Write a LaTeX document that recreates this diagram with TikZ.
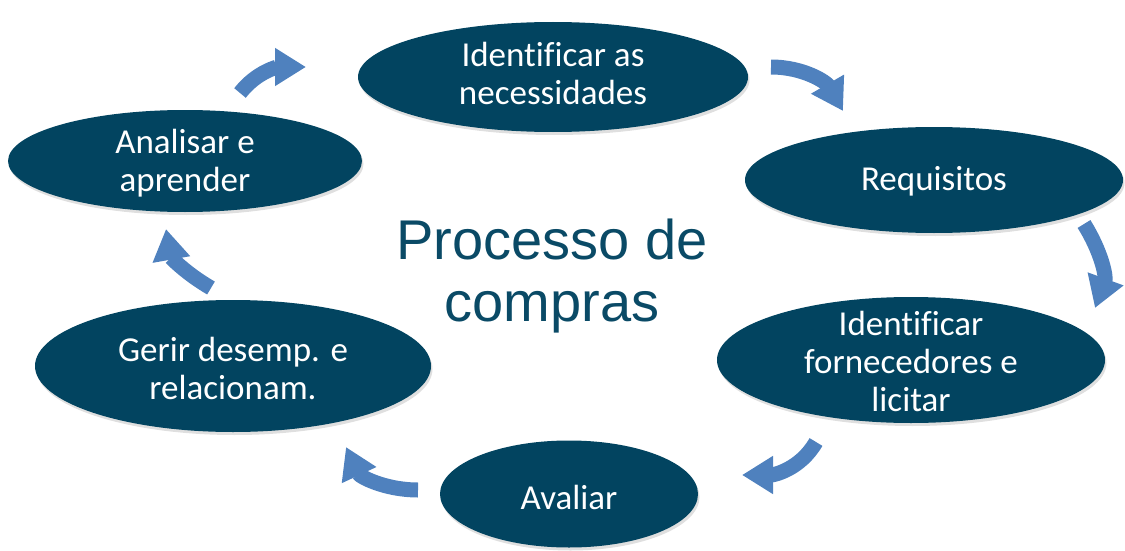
\documentclass[tikz,border=0pt]{standalone}
\usepackage{fontspec}
\setmainfont[Ligatures=NoCommon]{Carlito}
\newfontfamily\titlefont{Liberation Sans}
\usetikzlibrary{shapes.geometric,arrows.meta,shadows}
\definecolor{ellfill}{RGB}{2,68,96}
\definecolor{titlecol}{RGB}{10,74,102}
\definecolor{arrowblue}{RGB}{79,129,190}
\begin{document}
\begin{tikzpicture}[x=1pt,y=1pt,
  ell/.style={ellipse, draw=none, fill=ellfill, inner sep=0pt,
    drop shadow={opacity=0.25, shadow xshift=1.5pt, shadow yshift=-3pt}},
  elltext/.style={text=white, align=center, font=\fontsize{35}{38}\selectfont, inner sep=0pt},
  cyc/.style={draw=arrowblue, line width=15pt,
    -{Triangle[length=31pt,width=36pt]}}
]
\useasboundingbox (0,0) rectangle (1125,-551);

% ellipses
\node[ell, minimum width=390pt, minimum height=110pt] (e1) at (553,-77) {};
\node[ell, minimum width=378pt, minimum height=106pt] (e2) at (934,-180) {};
\node[ell, minimum width=388pt, minimum height=126pt] (e3) at (911,-360) {};
\node[ell, minimum width=258pt, minimum height=107pt] (e4) at (569,-494) {};
\node[ell, minimum width=396pt, minimum height=132pt] (e5) at (233,-366) {};
\node[ell, minimum width=354pt, minimum height=102pt] (e6) at (185,-161) {};

% texts
\node[elltext] (t1) at ([yshift=4pt]e1.center) {Identificar as\\necessidades};
\node[elltext] (t2) at ([yshift=-1pt]e2.center) {Requisitos};
\node[elltext] (t3) at ([yshift=-1pt]e3.center) {Identificar\\fornecedores e\\licitar};
\node[elltext] (t4) at ([yshift=-3pt]e4.center) {Avaliar};
\node[elltext] (t5) at ([yshift=-2pt]e5.center) {Gerir desemp. e\\relacionam.};
\node[elltext] (t6) at ([yshift=-2pt]e6.center) {Analisar e\\aprender};

\node[text=titlecol, align=center, inner sep=0pt,
  font=\titlefont\fontsize{56}{62}\selectfont] (title) at (552,-276) {Processo de\\compras};

% cycle arrows
\coordinate (a1s) at (240,-93);  \coordinate (a1e) at (306,-67);
\coordinate (a2s) at (771,-67);  \coordinate (a2e) at (843,-111);
\coordinate (a3s) at (1084,-224); \coordinate (a3e) at (1095,-308);
\coordinate (a4s) at (816,-442); \coordinate (a4e) at (742,-475);
\coordinate (a5s) at (418,-490); \coordinate (a5e) at (346,-447);
\coordinate (a6s) at (211,-288); \coordinate (a6e) at (166,-229);

\draw[cyc] (a1s) to[out=52,in=180] (a1e);
\draw[cyc] (a2s) to[out=0,in=120] (a2e);
\draw[cyc] (a3s) to[out=-58,in=70] (a3e);
\draw[cyc] (a4s) to[out=240,in=0] (a4e);
\draw[cyc] (a5s) to[out=180,in=-65] (a5e);
\draw[cyc] (a6s) to[out=150,in=-80] (a6e);
\end{tikzpicture}
\end{document}
